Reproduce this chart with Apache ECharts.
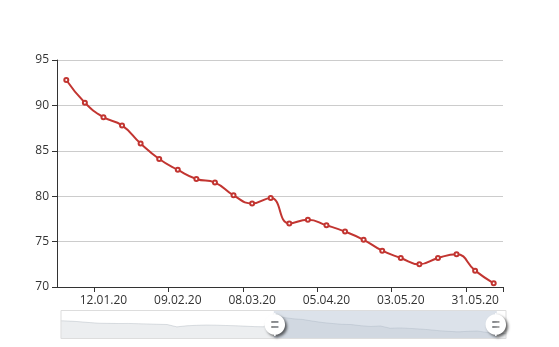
<!DOCTYPE html>
<html>
<head>
<meta charset="utf-8">
<script src="https://cdn.jsdelivr.net/npm/echarts@6/dist/echarts.min.js"></script>
<style>
html,body{margin:0;padding:0;background:#fff;}
#main{width:559px;height:347px;}
</style>
</head>
<body>
<div id="main"></div>
<script>
// Weekly dates (category axis)
var dates = [
  '28.07.19','04.08.19','11.08.19','18.08.19','25.08.19','01.09.19','08.09.19','15.09.19',
  '22.09.19','29.09.19','06.10.19','13.10.19','20.10.19','27.10.19','03.11.19','10.11.19',
  '17.11.19','24.11.19','01.12.19','08.12.19','15.12.19','22.12.19','29.12.19','05.01.20',
  '12.01.20','19.01.20','26.01.20','02.02.20','09.02.20','16.02.20','23.02.20','01.03.20',
  '08.03.20','15.03.20','22.03.20','29.03.20','05.04.20','12.04.20','19.04.20','26.04.20',
  '03.05.20','10.05.20','17.05.20','24.05.20','31.05.20','07.06.20','14.06.20'
];
// Earlier values (only visible in the zoom preview)
var earlierValues = [
  86.3, 85.8, 85.0, 84.0, 83.2, 83.0, 82.8, 82.9, 82.6, 82.3, 81.9,
  81.6, 78.7, 80.0, 80.6, 81.0, 80.8, 80.4, 80.1, 79.6, 79.0, 78.8
];
// Values shown in the main window
var shownValues = [
  92.8, 90.3, 88.7, 87.8, 85.8, 84.1, 82.9, 81.9, 81.5, 80.1, 79.2, 79.8,
  77.0, 77.4, 76.8, 76.1, 75.2, 74.0, 73.2, 72.5, 73.2, 73.6, 71.8, 70.4
];
var laterValues = [70.5];
var values = earlierValues.concat(shownValues, laterValues);

var windowStart = '29.12.19';
var windowEnd = '07.06.20';
var yTicks = { min: 70, max: 95, interval: 5 };

var FONT = 'Open Sans';
var chart = echarts.init(document.getElementById('main'), null, { renderer: 'canvas' });
var option = {
  animation: false,
  textStyle: { fontFamily: FONT },
  grid: { left: 57, right: 56, top: 60, bottom: 60, containLabel: false },
  xAxis: {
    type: 'category',
    boundaryGap: true,
    data: dates,
    axisLine: { show: true, lineStyle: { color: '#333', width: 1 } },
    axisTick: { show: true, length: 5, lineStyle: { color: '#333' } },
    axisLabel: { color: '#333', fontSize: 12, fontFamily: FONT, margin: 8, interval: 3 },
    splitLine: { show: false }
  },
  yAxis: {
    type: 'value',
    min: yTicks.min,
    max: yTicks.max,
    interval: yTicks.interval,
    axisLine: { show: true, lineStyle: { color: '#333', width: 1 } },
    axisTick: { show: true, length: 5, lineStyle: { color: '#333' } },
    axisLabel: { color: '#333', fontSize: 12, fontFamily: FONT, margin: 8 },
    splitLine: { show: true, lineStyle: { color: '#ccc', width: 1 } }
  },
  dataZoom: [{
    type: 'slider',
    xAxisIndex: 0,
    startValue: windowStart,
    endValue: windowEnd,
    left: 58,
    right: 55,
    top: 310,
    height: 29,
    brushSelect: false,
    showDetail: false,
    borderColor: '#ddd',
    backgroundColor: 'rgba(47,69,84,0)',
    fillerColor: 'rgba(167,183,203,0.4)',
    dataBackground: {
      lineStyle: { color: '#2f4554', width: 0.5, opacity: 0.3 },
      areaStyle: { color: 'rgba(47,69,84,0.3)', opacity: 0.3 }
    },
    selectedDataBackground: {
      lineStyle: { color: '#2f4554', width: 0.5, opacity: 0.3 },
      areaStyle: { color: 'rgba(47,69,84,0.3)', opacity: 0.3 }
    },
    handleIcon: 'path://M10.7,11.9v-1.3H9.3v1.3c-4.9,0.3-8.8,4.4-8.8,9.4c0,5,3.9,9.1,8.8,9.4v1.3h1.3v-1.3c4.9-0.3,8.8-4.4,8.8-9.4C19.5,16.3,15.6,12.2,10.7,11.9z M13.3,24.4H6.7V23h6.6V24.4z M13.3,19.6H6.7v-1.4h6.6V19.6z',
    handleSize: '80%',
    handleStyle: {
      color: '#fff',
      borderWidth: 0,
      shadowBlur: 3,
      shadowColor: 'rgba(0,0,0,0.6)',
      shadowOffsetX: 2,
      shadowOffsetY: 2
    }
  }],
  series: [{
    type: 'line',
    data: values,
    smooth: true,
    symbol: 'emptyCircle',
    symbolSize: 4,
    showAllSymbol: true,
    lineStyle: { color: '#c23531', width: 2 },
    itemStyle: { color: '#c23531', borderWidth: 1 }
  }]
};
chart.setOption(option);
</script>
</body>
</html>
